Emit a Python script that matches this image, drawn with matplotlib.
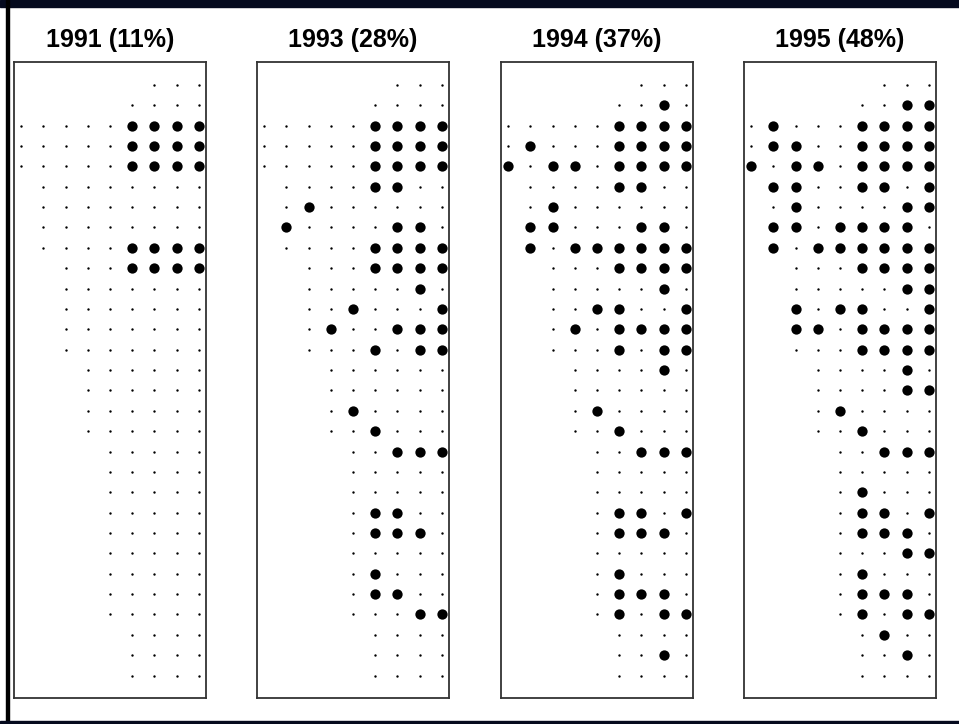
import matplotlib
matplotlib.use('Agg')
import matplotlib.pyplot as plt
from matplotlib.patches import Rectangle

plt.rcParams['font.family'] = ['Liberation Sans', 'DejaVu Sans']

# grid: 30 rows, 9 columns; each row runs from its start column to column 8
row_start = [6, 5, 0, 0, 0, 1, 1, 1, 1, 2, 2, 2, 2, 2, 3, 3, 3, 3,
             4, 4, 4, 4, 4, 4, 4, 4, 4, 5, 5, 5]
n_cols = 9

years = ['1991', '1993', '1994', '1995']
shares = [11, 28, 37, 48]

# occupied cells per year: row -> columns
occ_1991 = {2: [5, 6, 7, 8], 3: [5, 6, 7, 8], 4: [5, 6, 7, 8],
            8: [5, 6, 7, 8], 9: [5, 6, 7, 8]}
occ_1993 = {2: [5, 6, 7, 8], 3: [5, 6, 7, 8], 4: [5, 6, 7, 8], 5: [5, 6],
            6: [2], 7: [1, 6, 7], 8: [5, 6, 7, 8], 9: [5, 6, 7, 8], 10: [7],
            11: [4, 8], 12: [3, 6, 7, 8], 13: [5, 7, 8], 16: [4], 17: [5],
            18: [6, 7, 8], 21: [5, 6], 22: [5, 6, 7], 24: [5], 25: [5, 6],
            26: [7, 8]}
occ_1994 = {1: [7], 2: [5, 6, 7, 8], 3: [1, 5, 6, 7, 8],
            4: [0, 2, 3, 5, 6, 7, 8], 5: [5, 6], 6: [2], 7: [1, 2, 6, 7],
            8: [1, 3, 4, 5, 6, 7, 8], 9: [5, 6, 7, 8], 10: [7], 11: [4, 5, 8],
            12: [3, 5, 6, 7, 8], 13: [5, 7, 8], 14: [7], 16: [4], 17: [5],
            18: [6, 7, 8], 21: [5, 6, 8], 22: [5, 6, 7], 24: [5],
            25: [5, 6, 7], 26: [5, 7, 8], 28: [7]}
occ_1995 = {1: [7, 8], 2: [1, 5, 6, 7, 8], 3: [1, 2, 5, 6, 7, 8],
            4: [0, 2, 3, 5, 6, 7, 8], 5: [1, 2, 5, 6, 8], 6: [2, 7, 8],
            7: [1, 2, 4, 5, 6, 7], 8: [1, 3, 4, 5, 6, 7, 8], 9: [5, 6, 7, 8],
            10: [7, 8], 11: [2, 4, 5, 8], 12: [2, 3, 5, 6, 7, 8],
            13: [5, 6, 7, 8], 14: [7], 15: [7, 8], 16: [4], 17: [5],
            18: [6, 7, 8], 20: [5], 21: [5, 6, 8], 22: [5, 6, 7], 23: [7, 8],
            24: [5], 25: [5, 6, 7], 26: [5, 7, 8], 27: [6], 28: [7]}
occupied = [occ_1991, occ_1993, occ_1994, occ_1995]

W, H = 959, 724
fig = plt.figure(figsize=(W / 100, H / 100), dpi=100)

panel_left = [14, 257, 501, 744]
panel_w = 192
panel_top, panel_bot = 62, 698

for i in range(4):
    ax = fig.add_axes([panel_left[i] / W, (H - panel_bot) / H,
                       panel_w / W, (panel_bot - panel_top) / H])
    sx, sy, bx, by = [], [], [], []
    for r, c0 in enumerate(row_start):
        big = occupied[i].get(r, [])
        for c in range(c0, n_cols):
            if c in big:
                bx.append(c)
                by.append(r)
            else:
                sx.append(c)
                sy.append(r)
    ax.scatter(sx, sy, s=3, color='black', linewidths=0, clip_on=False)
    ax.scatter(bx, by, s=55, color='black', linewidths=0, clip_on=False, zorder=3)
    ax.set_xlim(-0.32, 8.32)
    ax.set_ylim(30.1, -1.12)
    ax.set_xticks([])
    ax.set_yticks([])
    for sp in ax.spines.values():
        sp.set_color('#333333')
        sp.set_linewidth(1.3)
    fig.text((panel_left[i] + panel_w / 2) / W, 1 - 40 / H,
             f'{years[i]} ({shares[i]}%)', ha='center', va='center',
             fontsize=18, fontweight='bold')

# dark outer frame of the original picture
fig.add_artist(Rectangle((0, 1 - 7 / H), 1, 7 / H, transform=fig.transFigure,
                         color='#050a1e', zorder=5))
fig.add_artist(Rectangle((6 / W, 0), 3 / W, 1, transform=fig.transFigure,
                         color='black', zorder=5))
fig.add_artist(Rectangle((0, 0), 1, 3 / H, transform=fig.transFigure,
                         color='#050a1e', zorder=5))

fig.savefig('out.png', dpi=100)
